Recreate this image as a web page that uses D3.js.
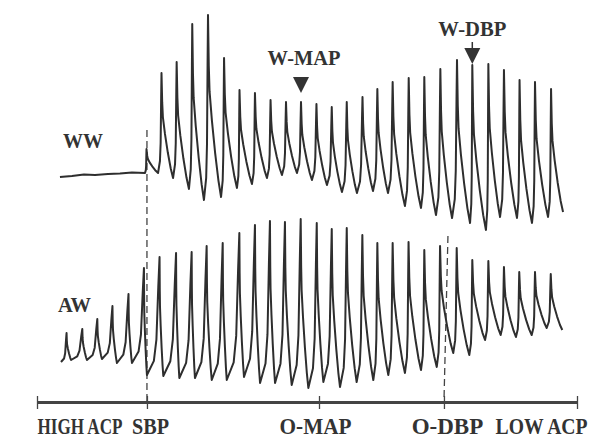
<!DOCTYPE html>
<html>
<head>
<meta charset="utf-8">
<script src="https://cdn.jsdelivr.net/npm/d3@7/dist/d3.min.js"></script>
<style>
  body { margin: 0; background: #fff; }
  text { font-family: "Liberation Serif", "Times New Roman", serif; font-weight: bold; fill: #333; }
</style>
</head>
<body>
<div id="chart"></div>
<script>
// time in seconds along the cuff deflation, levels in arbitrary units

// WW trace: flat part before SBP, then one trough/peak pair per beat
var wwBaseT = [1.53, 2.33, 3.13, 3.87, 4.73, 5.53, 6.33];
var wwBase  = [29, 29.5, 30.25, 30, 30.5, 30.75, 31.25];
var wwTroughT = [7.2, 8.07, 9.07, 10.13, 11.13, 12.27, 13.33, 14.33, 15.33, 16.33, 17.33, 18.33, 19.33, 20.33,
                 21.33, 22.4, 23.4, 24.53, 25.6, 26.6, 27.67, 28.87, 29.93, 30.87, 32, 33, 34.07];
var wwTrough  = [31, 31, 28.5, 23, 17.5, 19, 23.5, 25.5, 28.5, 30, 31, 27.5, 25, 21.5,
                 21, 22, 21, 14.5, 13.5, 10, 8.5, 6, 2.5, 9, 8.5, 6, 9];
var wwPeakT   = [7.3, 8.3, 9.31, 10.35, 11.4, 12.47, 13.5, 14.53, 15.57, 16.6, 17.6, 18.63, 19.65, 20.65,
                 21.7, 22.69, 23.71, 24.78, 25.82, 26.89, 28, 29.02, 30.09, 31.13, 32.17, 33.2, 34.27];
var wwPeak    = [43, 81, 86.5, 105.5, 110, 88.5, 72.5, 71, 67.5, 66.5, 66.5, 65.5, 64, 66.5,
                 69, 73, 76.5, 78.5, 79, 83, 87.5, 85, 85.5, 82.5, 77.5, 76.5, 73];
var wwEnd = [35.07, 11.5];

// AW trace
var awTroughT = [1.6, 2.27, 3.33, 4.33, 5.33, 6.33, 7.33, 8.42, 9.49, 10.53, 11.65, 12.65, 13.8, 14.87, 15.87, 16.98,
                 18.09, 19.09, 20.2, 21.31, 22.42, 23.42, 24.53, 25.6, 26.65, 27.75, 28.82, 29.87, 30.91, 31.93, 32.98, 33.98];
var awTrough  = [16.5, 17.5, 17.5, 18, 16, 16, 10, 9.5, 8.5, 8.5, 7.5, 7.5, 9, 6, 6, 5,
                 3.5, 6.5, 4, 6.5, 7.5, 10, 11, 12.5, 14, 21, 20, 27.5, 30, 29, 30, 33.5];
var awPeakT   = [1.97, 3.02, 4.02, 5.03, 6.1, 7.13, 8.17, 9.27, 10.31, 11.31, 12.38, 13.49, 14.53, 15.53, 16.53, 17.58,
                 18.65, 19.65, 20.65, 21.69, 22.69, 23.71, 24.77, 25.82, 26.87, 27.98, 29.02, 30.09, 31.13, 32.15, 33.2, 34.25];
var awPeak    = [31, 33, 38, 44.5, 50.5, 63.5, 69, 71, 71.5, 74.5, 76, 81, 85, 87, 86.5, 88,
                 86, 83, 83.5, 80, 76, 76, 76.5, 72.5, 74.5, 73.5, 67.5, 67, 64, 61.5, 61.5, 60.5];
var awEnd = [35.02, 32.5];

// bottom axis
var axisTicks  = [0, 7.33, 18.8, 27.13, 36];
var axisLabels = ['HIGH ACP', 'SBP', 'O-MAP', 'O-DBP', 'LOW ACP'];

// markers
var markerNames = ['W-MAP', 'W-DBP'];
var markerT = [17.6, 29.02];

// shape of one pulse: [fraction of time, fraction of amplitude]
var riseShape = [[0, 0], [0.55, 0.12], [0.75, 0.3], [0.9, 0.75], [1, 1]];
var fallShape = [[0, 0], [0.06, 0.28], [0.12, 0.42], [0.3, 0.58], [0.55, 0.76], [0.8, 0.91], [1, 1]];

var width = 589, height = 441;

var svg = d3.select('#chart')
  .append('svg')
  .attr('width', width)
  .attr('height', height);

var x = d3.scaleLinear().domain([0, 36]).range([37, 577]);
var yWW = d3.scaleLinear().domain([0, 100]).range([235, 35]);
var yAW = d3.scaleLinear().domain([0, 100]).range([395, 195]);

function buildTrace(lead, troughT, trough, peakT, peak, end) {
  var pts = lead.slice();
  for (var i = 0; i < peakT.length; i++) {
    riseShape.forEach(function(s) {
      pts.push([troughT[i] + s[0] * (peakT[i] - troughT[i]), trough[i] + s[1] * (peak[i] - trough[i])]);
    });
    var nT = i + 1 < peakT.length ? troughT[i + 1] : end[0];
    var nV = i + 1 < peakT.length ? trough[i + 1] : end[1];
    fallShape.slice(1, -1).forEach(function(s) {
      pts.push([peakT[i] + s[0] * (nT - peakT[i]), peak[i] + s[1] * (nV - peak[i])]);
    });
  }
  pts.push(end);
  return pts;
}

// squeeze a text horizontally to a given width (the print uses a narrow bold face)
function squeeze(sel, w, ax) {
  sel.each(function() {
    var n = this.getComputedTextLength();
    var s = Math.min(1, w / n);
    d3.select(this).attr('transform', 'translate(' + ax + ',0) scale(' + s + ',1) translate(' + (-ax) + ',0)');
  });
}

var wwLead = wwBaseT.map(function(t, i) { return [t, wwBase[i]]; });
var wwPts = buildTrace(wwLead, wwTroughT, wwTrough, wwPeakT, wwPeak, wwEnd);
var awPts = buildTrace([], awTroughT, awTrough, awPeakT, awPeak, awEnd);

var lineWW = d3.line().x(function(d) { return x(d[0]); }).y(function(d) { return yWW(d[1]); });
var lineAW = d3.line().x(function(d) { return x(d[0]); }).y(function(d) { return yAW(d[1]); });

// dashed guides
svg.append('line')
  .attr('x1', x(axisTicks[1])).attr('x2', x(axisTicks[1]))
  .attr('y1', 130).attr('y2', 402)
  .attr('stroke', '#444').attr('stroke-width', 1.3)
  .attr('stroke-dasharray', '7,4');

svg.append('line')
  .attr('x1', x(axisTicks[3]) + 4).attr('x2', x(axisTicks[3]))
  .attr('y1', 236).attr('y2', 402)
  .attr('stroke', '#444').attr('stroke-width', 1.3)
  .attr('stroke-dasharray', '7,4');

[[wwPts, lineWW], [awPts, lineAW]].forEach(function(p) {
  svg.append('path')
    .datum(p[0])
    .attr('d', p[1])
    .attr('fill', 'none')
    .attr('stroke', '#2e2e2e')
    .attr('stroke-width', 2)
    .attr('stroke-linejoin', 'round');
});

// trace names
svg.append('text').attr('x', 63).attr('y', 148).attr('font-size', 22).text('WW')
  .call(squeeze, 40, 63);
svg.append('text').attr('x', 58).attr('y', 312).attr('font-size', 22).text('AW')
  .call(squeeze, 33, 58);

// markers
var tri = 'M-8,0 L8,0 L0,16 Z';

svg.append('text').attr('x', x(markerT[0]) + 3).attr('y', 65).attr('font-size', 22)
  .attr('text-anchor', 'middle').text(markerNames[0])
  .call(squeeze, 73, x(markerT[0]) + 3);
svg.append('path').attr('d', tri)
  .attr('transform', 'translate(' + x(markerT[0]) + ',77)')
  .attr('fill', '#333');

svg.append('text').attr('x', x(markerT[1])).attr('y', 36).attr('font-size', 22)
  .attr('text-anchor', 'middle').text(markerNames[1])
  .call(squeeze, 68, x(markerT[1]));
svg.append('line')
  .attr('x1', x(markerT[1])).attr('x2', x(markerT[1]))
  .attr('y1', 42).attr('y2', 49)
  .attr('stroke', '#333').attr('stroke-width', 1.5);
svg.append('path').attr('d', tri)
  .attr('transform', 'translate(' + x(markerT[1]) + ',48)')
  .attr('fill', '#333');

// axis
var labelAnchor = ['start', 'middle', 'middle', 'middle', 'end'];
var labelDx = [0, 3, -4, 3, 10];
var labelLen = [85, 37, 72, 73, 92];

var axis = svg.append('g')
  .attr('transform', 'translate(0,402)')
  .call(d3.axisBottom(x)
    .tickValues(axisTicks)
    .tickSizeOuter(0)
    .tickFormat(function(d, i) { return axisLabels[i]; }));

axis.select('.domain').attr('stroke', '#444').attr('stroke-width', 3);
axis.selectAll('.tick line').attr('y1', -6).attr('y2', 7).attr('stroke', '#444').attr('stroke-width', 1.3);
axis.selectAll('.tick text')
  .attr('y', 32).attr('dy', null)
  .attr('font-size', 23)
  .attr('fill', '#333')
  .attr('font-family', '"Liberation Serif", serif')
  .attr('font-weight', 'bold')
  .attr('text-anchor', function(d, i) { return labelAnchor[i]; })
  .attr('x', function(d, i) { return labelDx[i]; })
  .each(function(d, i) { squeeze(d3.select(this), labelLen[i], labelDx[i]); });
</script>
</body>
</html>
